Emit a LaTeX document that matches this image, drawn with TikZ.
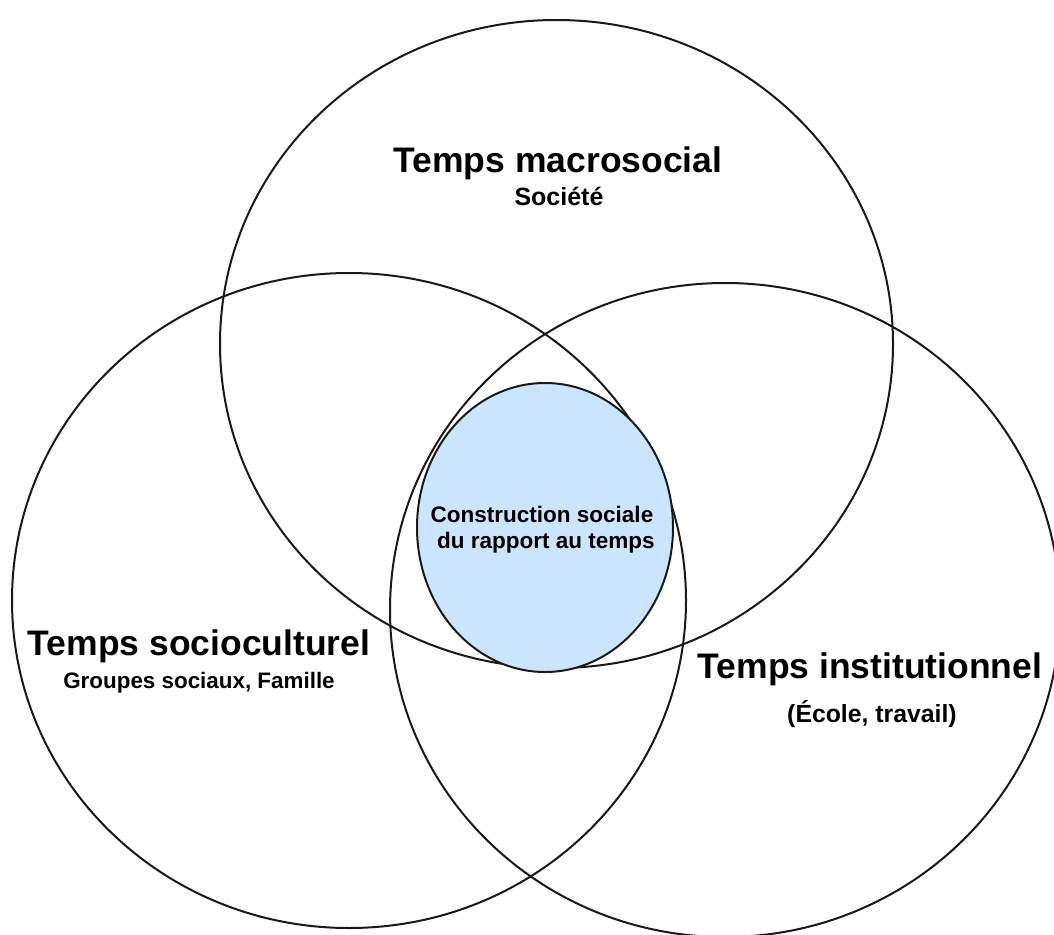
\documentclass[tikz,border=0pt]{standalone}
\usepackage{fontspec}
\setmainfont{Liberation Sans}
\usetikzlibrary{shapes.geometric}
\definecolor{ringline}{RGB}{25,25,25}
\definecolor{corefill}{RGB}{204,229,255}
\tikzset{
  ring/.style={ellipse, draw=ringline, line width=2pt, inner sep=0pt},
  core/.style={ellipse, draw=ringline, fill=corefill, line width=2pt, inner sep=0pt},
  bigtitle/.style={anchor=base, font=\bfseries\fontsize{35.5}{40}\selectfont, inner sep=0pt},
  subtitle/.style={anchor=base, font=\bfseries\fontsize{#1}{#1}\selectfont, inner sep=0pt},
}
\begin{document}
\begin{tikzpicture}[x=1pt,y=-1pt]
\useasboundingbox (0,0) rectangle (1054,934);
\fill[white] (0,0) rectangle (1054,934);
\node[ring, minimum width=673pt, minimum height=648pt] (macro) at (556.5,344) {};
\node[ring, minimum width=674pt, minimum height=655pt] (socio) at (349,600.5) {};
\node[ring, minimum width=670pt, minimum height=654pt] (inst) at (725,610) {};
\node[core, minimum width=256pt, minimum height=289pt] (coreell) at (545,527.5) {};
\node[bigtitle] (tmacro) at (558,172) {Temps macrosocial};
\node[subtitle=25] (soc) at (559,205) {Société};
\node[subtitle=22.5] (c1) at (542,522) {Construction sociale};
\node[subtitle=22.5] (c2) at (546,548) {du rapport au temps};
\node[bigtitle] (tsocio) at (199,655) {Temps socioculturel};
\node[subtitle=22.4] (grp) at (199,688) {Groupes sociaux, Famille};
\node[bigtitle] (tinst) at (870,678) {Temps institutionnel};
\node[subtitle=24.8] (ecole) at (872,722) {(École, travail)};
\end{tikzpicture}
\end{document}
